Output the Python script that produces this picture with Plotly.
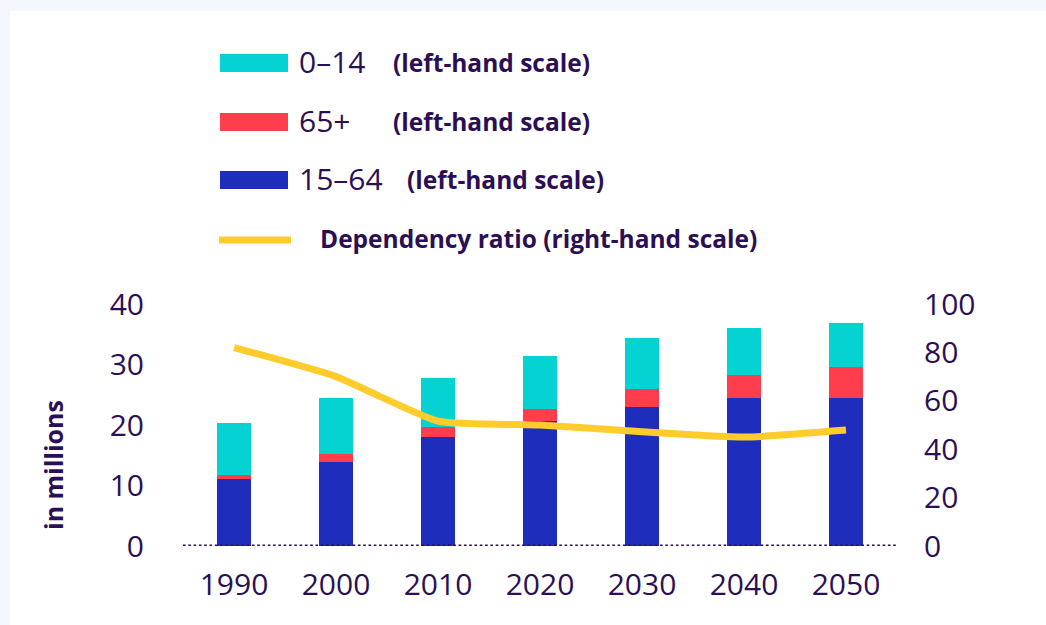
import plotly.graph_objects as go

# ---- data ----
years = ["1990", "2000", "2010", "2020", "2030", "2040", "2050"]
age_15_64 = [11.1, 13.9, 18.0, 20.7, 23.0, 24.5, 24.5]
age_65_plus = [0.7, 1.3, 1.6, 2.0, 2.9, 3.8, 5.1]
age_0_14 = [8.6, 9.3, 8.2, 8.7, 8.4, 7.8, 7.3]
dependency_ratio = [82.0, 70.0, 51.6, 50.0, 47.2, 45.0, 47.9]

bar_names = ["0–14", "65+", "15–64"]
bar_suffix = "(left-hand scale)"
line_name = "Dependency ratio (right-hand scale)"
left_ticks = [0, 10, 20, 30, 40]
right_ticks = [0, 20, 40, 60, 80, 100]

# ---- style ----
TXT = "#2b0f55"
C_CYAN = "#05d3d3"
C_RED = "#ff3d4d"
C_BLUE = "#1f2dbd"
C_YEL = "#ffcc2b"
FONT = "Open Sans"

W, H = 1046, 625
L, R, T, B = 183, 149, 304, 79
PW, PH = W - L - R, H - T - B


def px(x):
    return (x - L) / PW


def py(y):
    return (H - B - y) / PH


fig = go.Figure()
fig.add_bar(x=years, y=age_15_64, name=bar_names[2], marker_color=C_BLUE,
            width=0.33, marker_line_width=0, showlegend=False)
fig.add_bar(x=years, y=age_65_plus, name=bar_names[1], marker_color=C_RED,
            width=0.33, marker_line_width=0, showlegend=False)
fig.add_bar(x=years, y=age_0_14, name=bar_names[0], marker_color=C_CYAN,
            width=0.33, marker_line_width=0, showlegend=False)
fig.add_scatter(x=years, y=dependency_ratio, name=line_name, yaxis="y2",
                mode="lines", line=dict(color=C_YEL, width=7, shape="spline", smoothing=0.5),
                showlegend=False)

shapes = [
    # white card
    dict(type="rect", xref="paper", yref="paper", layer="below",
         x0=px(10), x1=px(W + 20), y0=py(H + 20), y1=py(11),
         fillcolor="white", line_width=0),
    # dotted baseline
    dict(type="line", xref="paper", yref="y", layer="above",
         x0=0, x1=1, y0=0, y1=0,
         line=dict(color=TXT, width=3, dash="2.6px,2.7px")),
]

annotations = [
    dict(text="<b>in millions</b>", xref="paper", yref="paper",
         x=px(53), y=py(465), textangle=-90, showarrow=False,
         font=dict(family=FONT, size=25, color=TXT), xanchor="center", yanchor="middle"),
]

# custom legend
rows = [
    (bar_names[0], C_CYAN, 63, 393),
    (bar_names[1], C_RED, 122, 393),
    (bar_names[2], C_BLUE, 180, 407),
]
for name, col, yc, sx in rows:
    shapes.append(dict(type="rect", xref="paper", yref="paper",
                       x0=px(220), x1=px(288), y0=py(yc + 9), y1=py(yc - 9),
                       fillcolor=col, line_width=0))
    annotations.append(dict(text=name, xref="paper", yref="paper", x=px(297), y=py(yc - 2),
                            xanchor="left", yanchor="middle", showarrow=False,
                            font=dict(family=FONT, size=30, color=TXT)))
    annotations.append(dict(text="<b>" + bar_suffix + "</b>", xref="paper", yref="paper",
                            x=px(sx - 2), y=py(yc - 1), xanchor="left", yanchor="middle",
                            showarrow=False, font=dict(family=FONT, size=24.5, color=TXT)))

shapes.append(dict(type="line", xref="paper", yref="paper",
                   x0=px(219), x1=px(291), y0=py(240), y1=py(240),
                   line=dict(color=C_YEL, width=7)))
annotations.append(dict(text="<b>" + line_name + "</b>", xref="paper", yref="paper",
                        x=px(318), y=py(239), xanchor="left", yanchor="middle",
                        showarrow=False, font=dict(family=FONT, size=24.5, color=TXT)))

fig.update_layout(
    width=W, height=H,
    margin=dict(l=L, r=R, t=T, b=B, pad=0),
    paper_bgcolor="#f3f8fe",
    plot_bgcolor="rgba(0,0,0,0)",
    barmode="stack",
    showlegend=False,
    font=dict(family=FONT, color=TXT),
    shapes=shapes,
    annotations=annotations,
    xaxis=dict(type="category", range=[-0.5, 6.5], showgrid=False, zeroline=False,
               showline=False, ticks="", tickfont=dict(size=30, color=TXT),
               ticklabelstandoff=18, fixedrange=True),
    yaxis=dict(range=[0, 40], tickvals=left_ticks, showgrid=False, zeroline=False,
               showline=False, ticks="", tickfont=dict(size=30, color=TXT),
               ticklabelstandoff=38),
    yaxis2=dict(range=[0, 100], tickvals=right_ticks, overlaying="y", side="right",
                showgrid=False, zeroline=False, showline=False, ticks="",
                tickfont=dict(size=30, color=TXT), ticklabelstandoff=26),
)

fig.write_html("out.html", config={"displayModeBar": False},
               post_script="document.body.style.margin='0px';")
